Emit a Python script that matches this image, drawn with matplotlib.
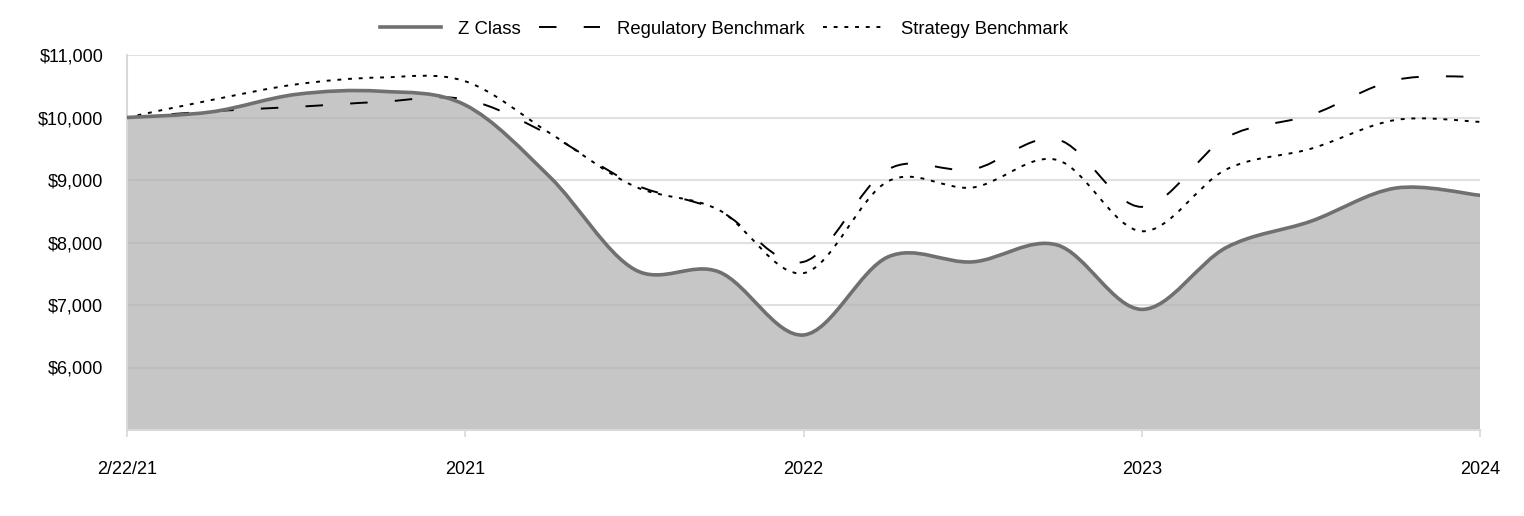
import numpy as np
import matplotlib.pyplot as plt
from matplotlib.path import Path
from matplotlib.patches import PathPatch

plt.rcParams['font.family'] = ['Liberation Sans', 'DejaVu Sans']

# quarterly points, 2/22/21 .. 2024
quarters = np.arange(17)
z_class = [10000, 10090, 10370, 10420, 10200, 9050, 7570, 7530, 6520,
           7770, 7690, 7960, 6930, 7920, 8340, 8870, 8755]
regulatory = [10000, 10100, 10170, 10250, 10290, 9720, 8930, 8510, 7690,
              9170, 9170, 9650, 8570, 9680, 10040, 10600, 10650]
strategy = [10000, 10280, 10530, 10640, 10580, 9750, 8900, 8520, 7510,
            8980, 8880, 9320, 8180, 9170, 9500, 9960, 9930]
tick_pos = [0, 4, 8, 12, 16]
tick_labels = ['2/22/21', '2021', '2022', '2023', '2024']
y_ticks = [6000, 7000, 8000, 9000, 10000, 11000]


def smooth_path(x, y, close_to=None):
    # cubic bezier through every point (catmull-rom style smoothing)
    p = np.column_stack([x, y]).astype(float)
    n = len(p)
    verts = [p[0]]
    codes = [Path.MOVETO]
    for i in range(n - 1):
        p0 = p[i - 1] if i > 0 else p[i]
        p3 = p[i + 2] if i + 2 < n else p[i + 1]
        c1 = p[i] + (p[i + 1] - p0) / 6
        c2 = p[i + 1] - (p3 - p[i]) / 6
        verts += [c1, c2, p[i + 1]]
        codes += [Path.CURVE4] * 3
    if close_to is not None:
        verts += [(x[-1], close_to), (x[0], close_to), p[0]]
        codes += [Path.LINETO, Path.LINETO, Path.CLOSEPOLY]
    return Path(verts, codes)


fig = plt.figure(figsize=(15.24, 5.16), dpi=100)
ax = fig.add_axes([127 / 1524, 1 - 430 / 516, 1353 / 1524, 375 / 516])

ax.add_patch(PathPatch(smooth_path(quarters, z_class, close_to=5000),
                       facecolor='#afafaf', alpha=0.71, edgecolor='none', zorder=1))
ax.add_patch(PathPatch(smooth_path(quarters, z_class), facecolor='none',
                       edgecolor='#707070', lw=2.6, zorder=4, capstyle='round'))
ax.add_patch(PathPatch(smooth_path(quarters, regulatory), facecolor='none',
                       edgecolor='black', lw=1.4, linestyle=(0, (9, 14)), zorder=3))
ax.add_patch(PathPatch(smooth_path(quarters, strategy), facecolor='none',
                       edgecolor='black', lw=1.4, linestyle=(0, (2, 3.5)), zorder=3))

ax.set_xlim(0, 16)
ax.set_ylim(5000, 11000)
ax.set_yticks(y_ticks)
ax.set_yticklabels(['${:,}'.format(v) for v in y_ticks])
ax.set_xticks(tick_pos)
ax.set_xticklabels(tick_labels)
ax.grid(axis='y', color='#e0e0e0', lw=1.5, zorder=0)
ax.set_axisbelow(True)
ax.tick_params(axis='y', length=0, pad=17, labelsize=13)
ax.tick_params(axis='x', length=5, width=1.2, color='#d9d9d9', pad=17, labelsize=13)
for s in ['top', 'right']:
    ax.spines[s].set_visible(False)
for s in ['left', 'bottom']:
    ax.spines[s].set_color('#d9d9d9')
    ax.spines[s].set_linewidth(1.5)

h1, = ax.plot([], [], color='#707070', lw=2.6)
h2, = ax.plot([], [], color='black', lw=1.4, linestyle=(0, (9, 14)))
h3, = ax.plot([], [], color='black', lw=1.4, linestyle=(0, (2, 3.5)))
fig.legend([h1, h2, h3], ['Z Class', 'Regulatory Benchmark', 'Strategy Benchmark'],
           loc='center', bbox_to_anchor=(724 / 1524, 1 - 29 / 516), ncol=3,
           frameon=False, fontsize=13.3, handlelength=3.3, handletextpad=0.9,
           columnspacing=1.0)

fig.savefig('out.png', dpi=100)
